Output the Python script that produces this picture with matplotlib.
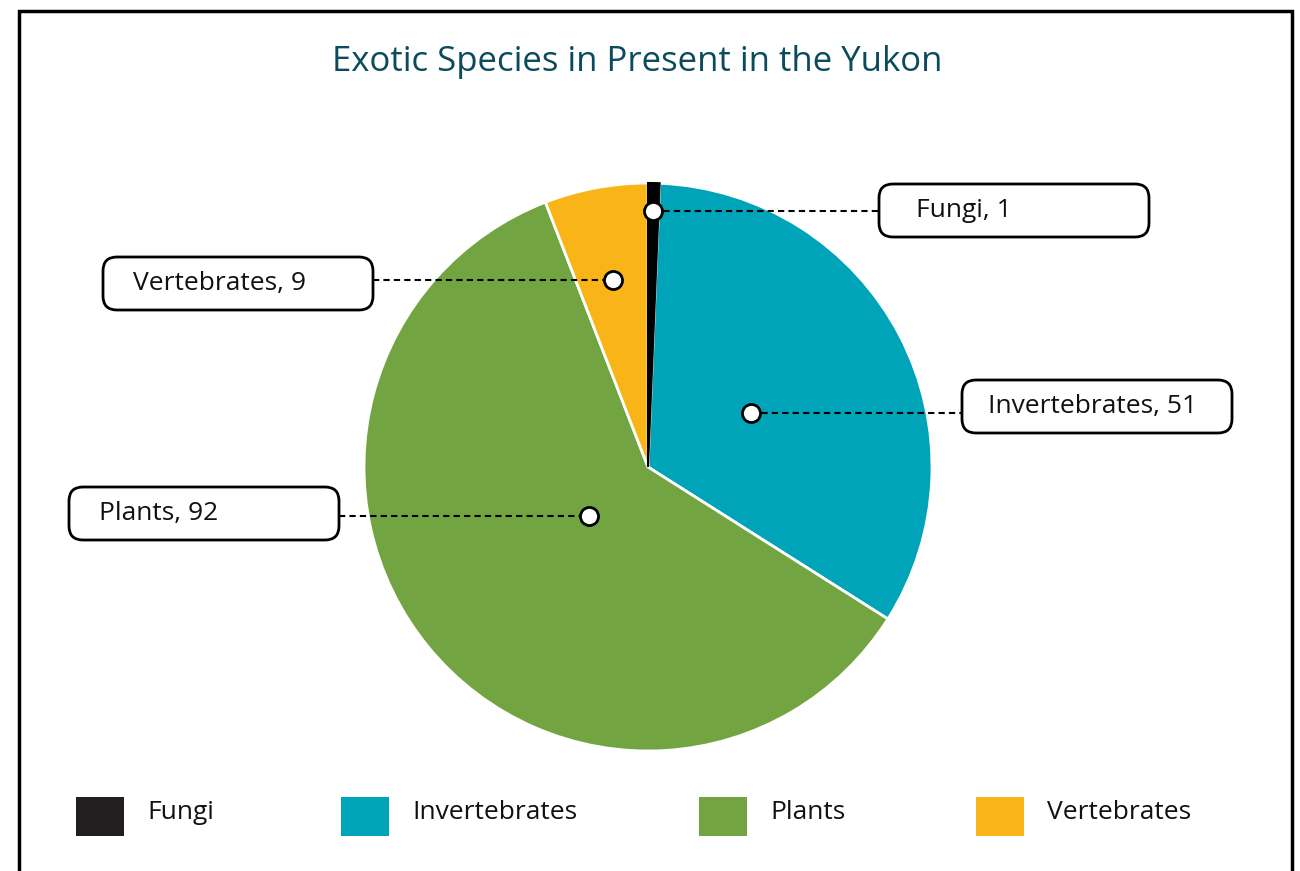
import numpy as np
import matplotlib.pyplot as plt
from matplotlib.patches import FancyBboxPatch, Rectangle

categories = ["Fungi", "Invertebrates", "Plants", "Vertebrates"]
counts = [1, 51, 92, 9]
colors = ["#231F20", "#00A4B8", "#72A541", "#F9B418"]

plt.rcParams['font.family'] = ['Open Sans', 'DejaVu Sans']

W, H = 1300, 871
fig = plt.figure(figsize=(W / 100, H / 100), dpi=100)
ax = fig.add_axes([0, 0, 1, 1])

def fy(y):
    # pixel y (from top) to axes y
    return H - y

cx, cy, R = 648, fy(467), 284
wedges, _ = ax.pie(counts, colors=colors, startangle=90, counterclock=False,
                   center=(cx, cy), radius=R, frame=True,
                   wedgeprops=dict(edgecolor='white', linewidth=2))
wedges[0].set_facecolor('black')
wedges[0].set_edgecolor('black')
wedges[0].set_linewidth(1.5)
wedges[0].set_zorder(3)
ax.set_xlim(0, W)
ax.set_ylim(0, H)
ax.set_aspect('auto')
ax.axis('off')

# marker radius fraction, label box (left x, top y) and text inset per slice
mark_r = [0.90, 0.41, 0.27, 0.67]
boxes = [(879, 184), (962, 380), (69, 487), (103, 257)]
text_pad = [37, 26, 30, 30]
bw, bh = 270, 53

total = sum(counts)
start = 90.0
for i, (name, val) in enumerate(zip(categories, counts)):
    span = 360.0 * val / total
    mid = np.deg2rad(start - span / 2)
    start -= span
    mx = cx + mark_r[i] * R * np.cos(mid)
    my = cy + mark_r[i] * R * np.sin(mid)
    bx, by = boxes[i]
    if bx > cx:
        ax.plot([mx, bx], [my, my], ls=(0, (3, 2)), color='black', lw=1.5, zorder=4)
    else:
        ax.plot([bx + bw, mx], [my, my], ls=(0, (3, 2)), color='black', lw=1.5, zorder=4)
    ax.plot(mx, my, 'o', ms=13, mfc='white', mec='black', mew=2, zorder=5)
    box = FancyBboxPatch((bx, fy(by + bh)), bw, bh,
                         boxstyle="round,pad=0,rounding_size=14",
                         fc='white', ec='black', lw=2, zorder=4)
    ax.add_patch(box)
    ax.text(bx + text_pad[i], fy(by + bh / 2), f"{name}, {val}", fontsize=19,
            va='center', ha='left', zorder=6, color='#111111')

# title
ax.text(637, fy(62), "Exotic Species in Present in the Yukon", fontsize=25,
        color='#0B4B5E', ha='center', va='center')

# legend
leg_x = [76, 341, 699, 976]
for i, name in enumerate(categories):
    ax.add_patch(Rectangle((leg_x[i], fy(836)), 48, 39, fc=colors[i], ec='none'))
    ax.text(leg_x[i] + 71, fy(812), name, fontsize=19, va='center', ha='left',
            color='#111111')

# outer frame
ax.plot([19, 19, 1292, 1292], [0, fy(11), fy(11), 0], color='black', lw=2.5,
        solid_joinstyle='miter')

fig.savefig('out.png', dpi=100)
